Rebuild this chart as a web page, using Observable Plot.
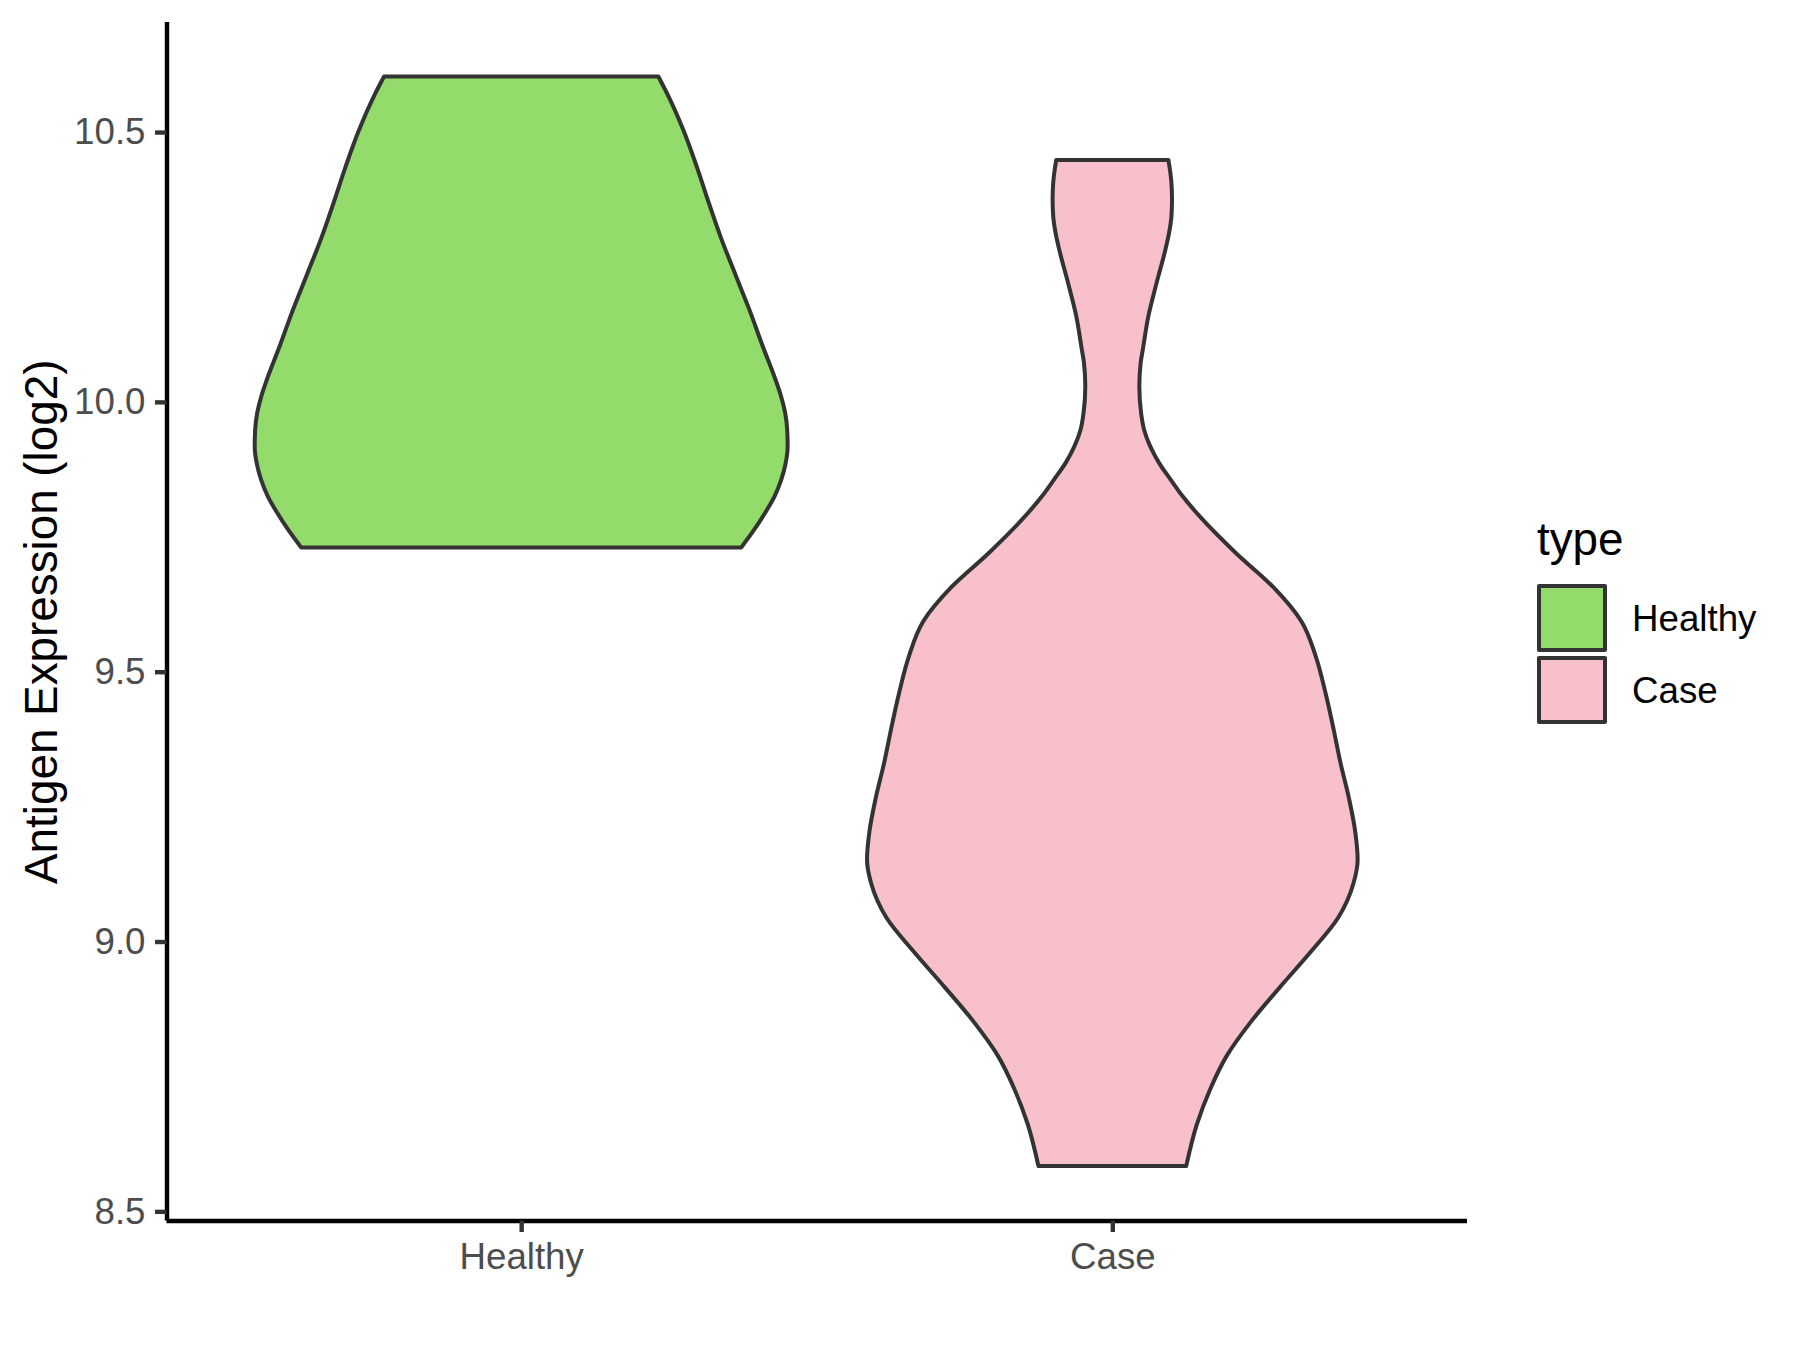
<!DOCTYPE html>
<html>
<head>
<meta charset="utf-8">
<script src="https://cdn.jsdelivr.net/npm/d3@7"></script>
<script src="https://cdn.jsdelivr.net/npm/@observablehq/plot@0.6"></script>
<style>
  html, body { margin: 0; padding: 0; background: #fff; }
  #chart { position: relative; width: 1800px; height: 1350px; font-family: "Liberation Sans", Arial, sans-serif; }
  #chart svg.overlay { position: absolute; left: 0; top: 0; pointer-events: none; }
</style>
</head>
<body>
<div id="chart"></div>
<script>
// ---- data ----
const categories = ["Healthy", "Case"];
const categoryColors = ["#93DB6B", "#F7C0CB"];
const yTicks = [8.5, 9.0, 9.5, 10.0, 10.5];
const yLabel = "Antigen Expression (log2)";
const legendTitle = "type";

// violin outlines: expression value and half-width (in category units)
const healthyValues = [10.603, 10.569, 10.502, 10.436, 10.370, 10.304, 10.237, 10.171, 10.105, 10.042, 10.011, 9.980, 9.949, 9.918, 9.887, 9.856, 9.825, 9.794, 9.764, 9.730];
const healthyHalfWidths = [0.232, 0.248, 0.275, 0.297, 0.317, 0.338, 0.362, 0.386, 0.408, 0.430, 0.4395, 0.4465, 0.4500, 0.4508, 0.4475, 0.4400, 0.4286, 0.4125, 0.3948, 0.3721];

const caseValues = [10.448, 10.406, 10.375, 10.344, 10.313, 10.283, 10.221, 10.159, 10.097, 10.073, 10.029, 9.980, 9.949, 9.918, 9.887, 9.856, 9.825, 9.784, 9.721, 9.657, 9.593, 9.529, 9.459, 9.395, 9.331, 9.267, 9.203, 9.152, 9.108, 9.044, 8.980, 8.916, 8.852, 8.789, 8.725, 8.661, 8.584];
const caseHalfWidths = [0.095, 0.100, 0.101, 0.100, 0.096, 0.090, 0.075, 0.061, 0.0516, 0.048, 0.0457, 0.0486, 0.0536, 0.064, 0.079, 0.0986, 0.119, 0.151, 0.208, 0.272, 0.320, 0.344, 0.361, 0.374, 0.386, 0.400, 0.411, 0.415, 0.408, 0.382, 0.335, 0.284, 0.235, 0.194, 0.165, 0.143, 0.125];

// ---- table ----
const rows = [];
[[healthyValues, healthyHalfWidths], [caseValues, caseHalfWidths]].forEach(([vals, hws], i) => {
  vals.forEach((v, j) => rows.push({type: categories[i], pos: i + 1, value: v, hw: hws[j]}));
});

const [lo, hi] = d3.extent(rows, d => d.value);
const pad = (hi - lo) * 0.05;
const yDomain = [lo - pad, hi + pad];
const xDomain = [0.4, categories.length + 0.6];

const fontFamily = "'Liberation Sans', Arial, sans-serif";

const plot = Plot.plot({
  width: 1800,
  height: 1350,
  marginLeft: 166.5,
  marginRight: 333,
  marginTop: 22,
  marginBottom: 129.5,
  style: {fontFamily, background: "white", overflow: "visible"},
  x: {type: "linear", domain: xDomain},
  y: {type: "linear", domain: yDomain},
  color: {domain: categories, range: categoryColors},
  marks: [
    Plot.areaX(rows, {
      y: "value",
      x1: d => d.pos - d.hw,
      x2: d => d.pos + d.hw,
      z: "type",
      fill: "type",
      stroke: "#333333",
      strokeWidth: 4,
      strokeLinejoin: "round",
      curve: "monotone-y"
    }),
    Plot.ruleX([xDomain[0]], {stroke: "black", strokeWidth: 4.4}),
    Plot.ruleY([yDomain[0]], {stroke: "black", strokeWidth: 4.4}),
    Plot.axisY({
      ticks: yTicks,
      tickFormat: d3.format(".1f"),
      tickSize: 11.5,
      tickPadding: 10,
      fontSize: 36.7,
      stroke: "#333333",
      strokeWidth: 4.4,
      fill: "#4D4D4D",
      label: null
    }),
    Plot.axisX({
      ticks: categories.map((c, i) => i + 1),
      tickFormat: d => categories[d - 1],
      tickSize: 11.5,
      tickPadding: 10,
      fontSize: 36.7,
      stroke: "#333333",
      strokeWidth: 4.4,
      fill: "#4D4D4D",
      label: null
    }),
    Plot.text([yLabel], {
      frameAnchor: "left",
      textAnchor: "middle",
      rotate: -90,
      dx: -110.5,
      lineAnchor: "bottom",
      fontSize: 45.8,
      fill: "black"
    })
  ]
});

const chart = document.getElementById("chart");
chart.appendChild(plot);

// ---- legend (uses the plot's colour scale) ----
const color = plot.scale("color");
const legendX = 1537, titleBaseline = 555, keyTop = 584, keyStep = 72, keyW = 66, keyH = 64;
const overlay = d3.select(chart).append("svg")
  .attr("class", "overlay")
  .attr("width", 1800).attr("height", 1350)
  .style("font-family", fontFamily);

overlay.append("text")
  .attr("x", legendX).attr("y", titleBaseline)
  .attr("font-size", 45.8).attr("fill", "black")
  .text(legendTitle);

categories.forEach((c, i) => {
  const y0 = keyTop + i * keyStep;
  overlay.append("rect")
    .attr("x", legendX + 2).attr("y", y0 + 2)
    .attr("width", keyW).attr("height", keyH)
    .attr("fill", color.apply(c))
    .attr("stroke", "#333333").attr("stroke-width", 4)
    .attr("stroke-linejoin", "round");
  overlay.append("text")
    .attr("x", legendX + 95).attr("y", y0 + 2 + keyH / 2)
    .attr("dy", "0.35em")
    .attr("font-size", 36.7).attr("fill", "black")
    .text(c);
});
</script>
</body>
</html>
